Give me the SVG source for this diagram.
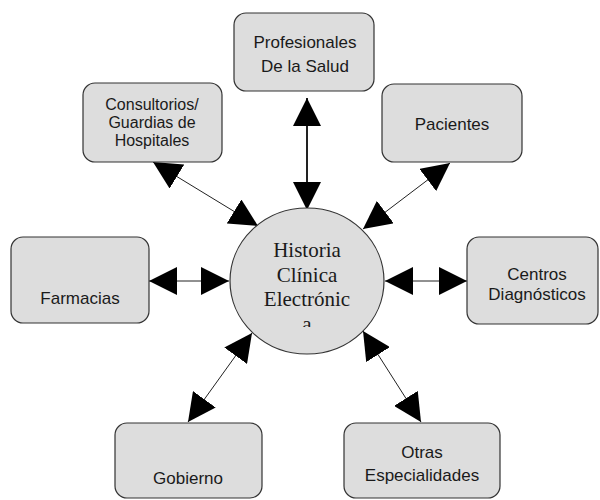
<svg xmlns="http://www.w3.org/2000/svg" width="600" height="500" viewBox="0 0 600 500">
<style>
.box{fill:#dddddd;stroke:#333333;stroke-width:1.2}
.lbl{font-family:"Liberation Sans",Arial,sans-serif;font-size:17px;fill:#1a1a1a;text-anchor:middle}
.small{font-size:16px}
.ctr{font-family:"Liberation Serif","Times New Roman",serif;font-size:21px;fill:#1a1a1a;text-anchor:middle}
.conn{stroke:#222222;stroke-width:1;fill:none;marker-start:url(#ah);marker-end:url(#ah)}
</style>
<defs>
<marker id="ah" markerUnits="userSpaceOnUse" viewBox="0 0 28 28" refX="28" refY="14" markerWidth="28" markerHeight="28" orient="auto-start-reverse">
<path d="M0,0 L28,14 L0,28 z" fill="#000"/>
</marker>
<clipPath id="cclip"><rect x="230" y="230" width="160" height="97"/></clipPath>
</defs>
<rect width="600" height="500" fill="#ffffff"/>
<g id="connectors">
<line class="conn" x1="307" y1="98" x2="307" y2="210" style="stroke-width:2"/>
<line class="conn" x1="153" y1="162" x2="258" y2="226"/>
<line class="conn" x1="450" y1="163" x2="363" y2="229"/>
<line class="conn" x1="149" y1="281" x2="229" y2="281"/>
<line class="conn" x1="385" y1="281" x2="467" y2="281"/>
<line class="conn" x1="252" y1="333" x2="188" y2="422"/>
<line class="conn" x1="363" y1="331" x2="421" y2="422"/>
</g>
<g id="historia">
<ellipse cx="307" cy="281" rx="77" ry="73" class="box"/>
<g clip-path="url(#cclip)">
<text class="ctr" x="307" y="257">Historia</text>
<text class="ctr" x="307" y="282">Clínica</text>
<text class="ctr" x="307" y="306">Electrónic</text>
<text class="ctr" x="307" y="331">a</text>
</g>
</g>
<g id="profesionales">
<rect class="box" x="234" y="13" width="140" height="78" rx="12"/>
<text class="lbl" x="305" y="48">Profesionales</text>
<text class="lbl" x="305" y="72">De la Salud</text>
</g>
<g id="consultorios">
<rect class="box" x="83" y="83" width="139" height="79" rx="12"/>
<text class="lbl small" x="152" y="110">Consultorios/</text>
<text class="lbl small" x="152" y="128">Guardias de</text>
<text class="lbl small" x="152" y="146">Hospitales</text>
</g>
<g id="pacientes">
<rect class="box" x="382" y="84" width="140" height="78" rx="12"/>
<text class="lbl" x="452" y="130">Pacientes</text>
</g>
<g id="farmacias">
<rect class="box" x="11" y="237" width="138" height="86" rx="12"/>
<text class="lbl" x="80" y="304">Farmacias</text>
</g>
<g id="centros">
<rect class="box" x="467" y="237" width="131" height="87" rx="12"/>
<text class="lbl" x="537" y="280">Centros</text>
<text class="lbl" x="537" y="300">Diagnósticos</text>
</g>
<g id="gobierno">
<rect class="box" x="115" y="423" width="147" height="75" rx="12"/>
<text class="lbl" x="188" y="484">Gobierno</text>
</g>
<g id="otras">
<rect class="box" x="344" y="423" width="156" height="75" rx="12"/>
<text class="lbl" x="422" y="458">Otras</text>
<text class="lbl" x="422" y="481">Especialidades</text>
</g>
</svg>
